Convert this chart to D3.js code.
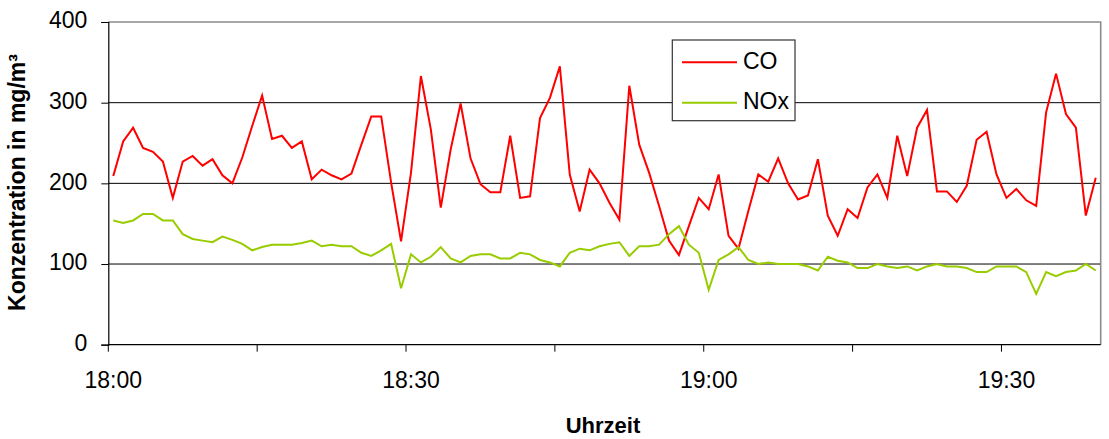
<!DOCTYPE html>
<html>
<head>
<meta charset="utf-8">
<script src="https://cdn.jsdelivr.net/npm/d3@7"></script>
<style>
  html, body { margin: 0; padding: 0; background: #fff; }
  svg { display: block; font-family: "Liberation Sans", Arial, sans-serif; }
</style>
</head>
<body>
<svg id="chart" width="1109" height="439"></svg>
<script>
// ---- data ----
const categories = [
  "18:00","18:01","18:02","18:03","18:04","18:05","18:06","18:07","18:08","18:09",
  "18:10","18:11","18:12","18:13","18:14","18:15","18:16","18:17","18:18","18:19",
  "18:20","18:21","18:22","18:23","18:24","18:25","18:26","18:27","18:28","18:29",
  "18:30","18:31","18:32","18:33","18:34","18:35","18:36","18:37","18:38","18:39",
  "18:40","18:41","18:42","18:43","18:44","18:45","18:46","18:47","18:48","18:49",
  "18:50","18:51","18:52","18:53","18:54","18:55","18:56","18:57","18:58","18:59",
  "19:00","19:01","19:02","19:03","19:04","19:05","19:06","19:07","19:08","19:09",
  "19:10","19:11","19:12","19:13","19:14","19:15","19:16","19:17","19:18","19:19",
  "19:20","19:21","19:22","19:23","19:24","19:25","19:26","19:27","19:28","19:29",
  "19:30","19:31","19:32","19:33","19:34","19:35","19:36","19:37","19:38","19:39"
];
const coValues = [
  209,252,269,244,239,227,182,227,234,222,
  230,210,200,232,271,309,255,259,244,252,
  205,217,210,205,212,248,283,283,201,128,
  213,333,267,170,242,299,231,199,189,189,
  259,182,184,281,306,345,211,165,217,200,
  176,155,321,248,213,172,129,111,147,182,
  168,211,135,119,166,211,202,231,200,180,
  185,230,160,135,168,157,195,211,182,259,
  209,269,291,190,190,177,197,254,264,211,
  182,193,179,172,288,336,286,269,160,207
];
const noxValues = [
  154,151,154,162,162,154,154,137,131,129,
  127,134,130,125,117,121,124,124,124,126,
  129,122,124,122,122,114,110,117,125,70,
  112,102,109,121,107,102,110,112,112,107,
  107,114,112,105,102,97,114,119,117,122,
  125,127,110,122,122,124,137,147,124,114,
  68,105,112,121,105,100,102,100,100,100,
  97,92,109,104,102,95,95,100,97,95,
  97,92,97,100,97,97,95,90,90,97,
  97,97,90,63,90,85,90,92,100,92
];
const seriesNames = ["CO", "NOx"];
const seriesColors = ["#ff0000", "#99cc00"];
const yTickValues = [0, 100, 200, 300, 400];
const xTickLabels = ["18:00", "18:30", "19:00", "19:30"];
const yTitle = "Konzentration in mg/m³";
const xTitle = "Uhrzeit";

// ---- layout ----
const svg = d3.select("#chart");
const pLeft = 108.3, pRight = 1100.7, pTop = 22, pBottom = 344.7;

const x = d3.scaleBand().domain(d3.range(categories.length)).range([pLeft, pRight]).paddingInner(0).paddingOuter(0);
const y = d3.scaleLinear().domain([0, 400]).range([pBottom, pTop]);
const cx = i => x(i) + x.bandwidth() / 2;

// gridlines
svg.append("g").selectAll("line")
  .data(yTickValues.filter(v => v > 0 && v < 400))
  .join("line")
  .attr("x1", pLeft).attr("x2", pRight)
  .attr("y1", d => y(d)).attr("y2", d => y(d))
  .attr("stroke", "#000").attr("stroke-width", 1);

// plot border (top, right)
svg.append("path")
  .attr("d", `M${pLeft},${pTop}H${pRight}V${pBottom}`)
  .attr("fill", "none").attr("stroke", "#8c8c8c").attr("stroke-width", 1.6);

// y axis
const yAxis = d3.axisLeft(y).tickValues(yTickValues).tickSize(7).tickPadding(14);
const gy = svg.append("g").attr("transform", `translate(${pLeft},0)`).call(yAxis);
gy.select(".domain").attr("stroke", "#000").attr("stroke-width", 1.2);
gy.selectAll(".tick line").attr("stroke", "#000");
gy.selectAll(".tick text").attr("font-size", 23).attr("fill", "#000")
  .attr("font-family", "Liberation Sans, Arial, sans-serif")
  .attr("dy", "0.25em");

// x axis: tick marks at band boundaries every 15, labels every 30
const xAxisG = svg.append("g");
xAxisG.append("line").attr("x1", pLeft).attr("x2", pRight).attr("y1", pBottom).attr("y2", pBottom)
  .attr("stroke", "#000").attr("stroke-width", 1.2);
const tickIdx = d3.range(0, categories.length, 15);
xAxisG.selectAll("line.tk").data(tickIdx).join("line").attr("class", "tk")
  .attr("x1", d => x(d)).attr("x2", d => x(d))
  .attr("y1", pBottom).attr("y2", pBottom + 7)
  .attr("stroke", "#000");
xAxisG.selectAll("text").data(xTickLabels).join("text")
  .attr("x", d => cx(categories.indexOf(d)))
  .attr("y", 388)
  .attr("text-anchor", "middle")
  .attr("font-size", 23)
  .attr("fill", "#000")
  .text(d => d);

// lines
const seriesData = [coValues, noxValues];
const line = d3.line().x((d, i) => cx(i)).y(d => y(d));
svg.append("g").selectAll("path")
  .data(seriesData)
  .join("path")
  .attr("d", d => line(d))
  .attr("fill", "none")
  .attr("stroke", (d, i) => seriesColors[i])
  .attr("stroke-width", 2)
  .attr("stroke-linejoin", "miter");

// legend
const lg = svg.append("g");
lg.append("rect").attr("x", 672.3).attr("y", 40).attr("width", 122.7).attr("height", 80.7)
  .attr("fill", "#fff").attr("stroke", "#333").attr("stroke-width", 1.2);
const legendRows = [62.3, 102.7];
seriesNames.forEach((name, i) => {
  lg.append("line").attr("x1", 682).attr("x2", 737)
    .attr("y1", legendRows[i]).attr("y2", legendRows[i])
    .attr("stroke", seriesColors[i]).attr("stroke-width", 2);
  lg.append("text").attr("x", 743).attr("y", legendRows[i] + 6.3)
    .attr("font-size", 23).attr("fill", "#000").text(name);
});

// titles
svg.append("text")
  .attr("transform", `translate(25,182.5) rotate(-90)`)
  .attr("text-anchor", "middle")
  .attr("font-size", 23).attr("font-weight", "bold").attr("fill", "#000")
  .text(yTitle);
svg.append("text")
  .attr("x", 603).attr("y", 433)
  .attr("text-anchor", "middle")
  .attr("font-size", 22).attr("font-weight", "bold").attr("fill", "#000")
  .text(xTitle);
</script>
</body>
</html>
